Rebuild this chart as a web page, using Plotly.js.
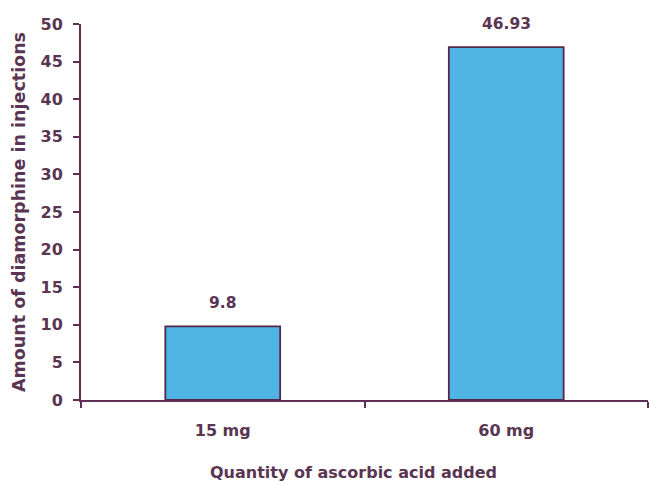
<!DOCTYPE html>
<html>
<head>
<meta charset="utf-8">
<script src="https://cdn.plot.ly/plotly-3.0.1.min.js"></script>
<style>
  html, body { margin: 0; padding: 0; background: #ffffff; }
  #chart { width: 649px; height: 484px; }
</style>
</head>
<body>
<div id="chart"></div>
<script>
// Ascorbic acid quantities and the diamorphine found in the injections
const categories = ["15 mg", "60 mg"];
const amounts = [9.8, 46.93];
const valueLabels = ["9.8", "46.93"];
const yTicks = [0, 5, 10, 15, 20, 25, 30, 35, 40, 45, 50];
const xTitle = "Quantity of ascorbic acid added";
const yTitle = "Amount of diamorphine in injections";

const ink = "#5a3552";
const lineCol = "#5e2f52";
const fontFam = "DejaVu Sans, Verdana, sans-serif";

const trace = {
  type: "bar",
  x: categories,
  y: amounts,
  cliponaxis: false,
  marker: {
    color: "#4fb4e4",
    line: { color: "#55284a", width: 1.8 }
  },
  hoverinfo: "skip"
};

// value labels sit just above each bar top
const valueNotes = categories.map((c, i) => ({
  x: c,
  y: amounts[i],
  text: valueLabels[i],
  showarrow: false,
  yanchor: "bottom",
  yshift: 12,
  font: { family: fontFam, size: 15.5, color: ink, weight: "bold" }
}));

// x-axis caption, set a little left of the plot centre
const xCaption = {
  xref: "paper",
  yref: "paper",
  x: 0.48,
  y: 0,
  yanchor: "middle",
  yshift: -72,
  text: xTitle,
  showarrow: false,
  font: { family: fontFam, size: 16, color: ink, weight: "bold" }
};

const layout = {
  width: 649,
  height: 484,
  margin: { l: 81, r: 1, t: 24, b: 84 },
  paper_bgcolor: "#ffffff",
  plot_bgcolor: "#ffffff",
  bargap: 0.595,
  showlegend: false,
  font: { family: fontFam, size: 16, color: ink, weight: "bold" },
  annotations: valueNotes.concat([xCaption]),
  xaxis: {
    type: "category",
    range: [-0.5, 1.5],
    tickson: "boundaries",
    ticks: "outside",
    ticklen: 6,
    tickwidth: 2,
    tickcolor: lineCol,
    showline: true,
    linecolor: lineCol,
    linewidth: 2,
    showgrid: false,
    zeroline: false,
    ticklabelstandoff: 15,
    tickfont: { family: fontFam, size: 16, color: ink, weight: "bold" }
  },
  yaxis: {
    range: [0, 50],
    tickmode: "array",
    tickvals: yTicks,
    ticktext: yTicks.map(String),
    ticks: "outside",
    ticklen: 6,
    tickwidth: 2,
    tickcolor: lineCol,
    showline: true,
    linecolor: lineCol,
    linewidth: 2,
    showgrid: false,
    zeroline: false,
    ticklabelstandoff: 7,
    tickfont: { family: fontFam, size: 16, color: ink, weight: "bold" },
    title: { text: yTitle, font: { family: fontFam, size: 17.5, color: ink, weight: "bold" }, standoff: 10 }
  }
};

Plotly.newPlot("chart", [trace], layout, { displayModeBar: false, staticPlot: true });
</script>
</body>
</html>
